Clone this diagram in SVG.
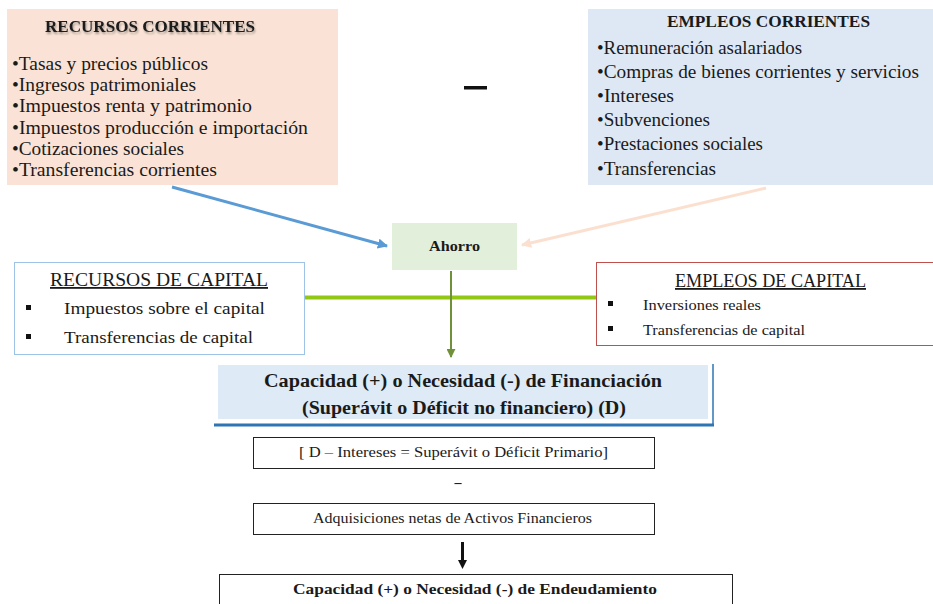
<svg xmlns="http://www.w3.org/2000/svg" width="933" height="604" viewBox="0 0 933 604">
  <style>
    text { font-family: 'Liberation Serif', 'DejaVu Serif', serif; fill: #1a1a1a; }
    .title { font-weight: bold; font-size: 16px; }
    .item { font-size: 18px; }
    .cap { font-size: 18px; text-decoration: underline; }
    .capitem { font-size: 17.5px; }
    .small { font-size: 15px; }
    .bold18 { font-weight: bold; font-size: 18.5px; }
    .thin { fill: #ffffff; stroke: #222; stroke-width: 1; }
  </style>
  <defs>
    <marker id="headBlue" viewBox="0 0 10 10" refX="9" refY="5" markerWidth="3.4" markerHeight="3.4" orient="auto">
      <path d="M0,0 L10,5 L0,10 z" fill="#5B9BD5"/>
    </marker>
    <marker id="headPeach" viewBox="0 0 10 10" refX="9" refY="5" markerWidth="3.4" markerHeight="3.4" orient="auto">
      <path d="M0,0 L10,5 L0,10 z" fill="#FBE0D0"/>
    </marker>
    <marker id="headOlive" viewBox="0 0 10 10" refX="9" refY="5" markerWidth="4.5" markerHeight="4.5" orient="auto">
      <path d="M0,0 L10,5 L0,10 z" fill="#70913A"/>
    </marker>
    <filter id="soft" x="-10%" y="-50%" width="120%" height="200%">
      <feGaussianBlur in="SourceAlpha" stdDeviation="1"/>
      <feOffset dx="1" dy="1.5"/>
      <feComponentTransfer><feFuncA type="linear" slope="0.35"/></feComponentTransfer>
      <feMerge><feMergeNode/><feMergeNode in="SourceGraphic"/></feMerge>
    </filter>
  </defs>

  <!-- current resources -->
  <g id="recursos-corrientes">
    <rect x="7" y="9" width="331" height="176" fill="#FAE3D6"/>
    <text class="title" x="45" y="32" textLength="210" lengthAdjust="spacingAndGlyphs" filter="url(#soft)">RECURSOS CORRIENTES</text>
    <text class="item" x="12" y="70" textLength="196" lengthAdjust="spacingAndGlyphs">•Tasas y precios públicos</text>
    <text class="item" x="12" y="91" textLength="184" lengthAdjust="spacingAndGlyphs">•Ingresos patrimoniales</text>
    <text class="item" x="12" y="112" textLength="240" lengthAdjust="spacingAndGlyphs">•Impuestos renta y patrimonio</text>
    <text class="item" x="12" y="134" textLength="296" lengthAdjust="spacingAndGlyphs">•Impuestos producción e importación</text>
    <text class="item" x="12" y="155" textLength="172" lengthAdjust="spacingAndGlyphs">•Cotizaciones sociales</text>
    <text class="item" x="12" y="176" textLength="205" lengthAdjust="spacingAndGlyphs">•Transferencias corrientes</text>
  </g>

  <!-- minus between the two current blocks -->
  <rect x="464" y="86" width="23" height="3.5" fill="#111"/>

  <!-- current expenditure -->
  <g id="empleos-corrientes">
    <rect x="588" y="9" width="345" height="176" fill="#DEE8F4"/>
    <text class="title" x="667" y="27" textLength="203" lengthAdjust="spacingAndGlyphs">EMPLEOS CORRIENTES</text>
    <text class="item" x="597" y="54" textLength="205" lengthAdjust="spacingAndGlyphs">•Remuneración asalariados</text>
    <text class="item" x="597" y="78" textLength="322" lengthAdjust="spacingAndGlyphs">•Compras de bienes corrientes y servicios</text>
    <text class="item" x="597" y="102" textLength="77" lengthAdjust="spacingAndGlyphs">•Intereses</text>
    <text class="item" x="597" y="126" textLength="113" lengthAdjust="spacingAndGlyphs">•Subvenciones</text>
    <text class="item" x="597" y="150" textLength="166" lengthAdjust="spacingAndGlyphs">•Prestaciones sociales</text>
    <text class="item" x="597" y="175" textLength="119" lengthAdjust="spacingAndGlyphs">•Transferencias</text>
  </g>

  <!-- savings -->
  <g id="ahorro">
    <rect x="392" y="223" width="125" height="47" fill="#E2EFDA"/>
    <text x="429" y="251" font-weight="bold" font-size="14.5" textLength="51" lengthAdjust="spacingAndGlyphs">Ahorro</text>
  </g>

  <!-- capital resources -->
  <g id="recursos-capital">
    <rect x="14.5" y="262.5" width="290" height="92" fill="#ffffff" stroke="#9DC3E6" stroke-width="1"/>
    <text class="cap" x="50" y="286" textLength="218" lengthAdjust="spacingAndGlyphs">RECURSOS DE CAPITAL</text>
    <rect x="26" y="305" width="5" height="5" fill="#111"/>
    <text class="capitem" x="64" y="314" textLength="201" lengthAdjust="spacingAndGlyphs">Impuestos sobre el capital</text>
    <rect x="26" y="334" width="5" height="5" fill="#111"/>
    <text class="capitem" x="64" y="343" textLength="189" lengthAdjust="spacingAndGlyphs">Transferencias de capital</text>
  </g>

  <!-- capital expenditure -->
  <g id="empleos-capital">
    <rect x="596.5" y="262.5" width="340" height="83" fill="#ffffff" stroke="#C0504D" stroke-width="1"/>
    <text class="cap" x="675" y="287" textLength="191" lengthAdjust="spacingAndGlyphs">EMPLEOS DE CAPITAL</text>
    <rect x="608" y="301" width="5" height="5" fill="#111"/>
    <text class="small" x="643" y="310" textLength="118" lengthAdjust="spacingAndGlyphs">Inversiones reales</text>
    <rect x="608" y="326" width="5" height="5" fill="#111"/>
    <text class="small" x="643" y="335" textLength="162" lengthAdjust="spacingAndGlyphs">Transferencias de capital</text>
  </g>

  <!-- financing capacity / need -->
  <g id="capacidad-financiacion">
    <rect x="218" y="365" width="490" height="54" fill="#DEEAF6"/>
    <line x1="713" y1="364" x2="713" y2="426" stroke="#2E75B6" stroke-width="1.5"/>
    <line x1="214" y1="425" x2="714" y2="425" stroke="#2E75B6" stroke-width="3"/>
    <text class="bold18" x="264" y="387" textLength="398" lengthAdjust="spacingAndGlyphs">Capacidad (+) o Necesidad (-) de Financiación</text>
    <text class="bold18" x="302" y="414" textLength="324" lengthAdjust="spacingAndGlyphs">(Superávit o Déficit no financiero) (D)</text>
  </g>

  <g id="superavit-primario">
    <rect class="thin" x="253.5" y="437.5" width="401" height="31"/>
    <text x="299" y="457" font-size="14.5" textLength="309" lengthAdjust="spacingAndGlyphs">[ D – Intereses = Superávit o Déficit Primario]</text>
  </g>

  <text x="458" y="487" text-anchor="middle" font-size="14" font-weight="bold">–</text>

  <g id="activos-financieros">
    <rect class="thin" x="253.5" y="503.5" width="401" height="31"/>
    <text x="313" y="523" font-size="14.5" textLength="279" lengthAdjust="spacingAndGlyphs">Adquisiciones netas de Activos Financieros</text>
  </g>

  <g id="capacidad-endeudamiento">
    <rect class="thin" x="219.5" y="574.5" width="513" height="40"/>
    <text x="293" y="594" font-size="15" font-weight="bold" textLength="364" lengthAdjust="spacingAndGlyphs">Capacidad (+) o Necesidad (-) de Endeudamiento</text>
  </g>

  <!-- connectors -->
  <g id="connectors">
    <line x1="172" y1="187" x2="387" y2="246" stroke="#5B9BD5" stroke-width="3" marker-end="url(#headBlue)"/>
    <line x1="766" y1="188" x2="522" y2="245" stroke="#FBE0D0" stroke-width="3" marker-end="url(#headPeach)"/>
    <line x1="305" y1="297.5" x2="596" y2="297.5" stroke="#92C815" stroke-width="4"/>
    <line x1="451" y1="271" x2="451" y2="357" stroke="#70913A" stroke-width="2" marker-end="url(#headOlive)"/>
    <rect x="461" y="542" width="3" height="19" fill="#111"/>
    <path d="M458,560 L467,560 L462.5,569 z" fill="#111"/>
  </g>
</svg>
